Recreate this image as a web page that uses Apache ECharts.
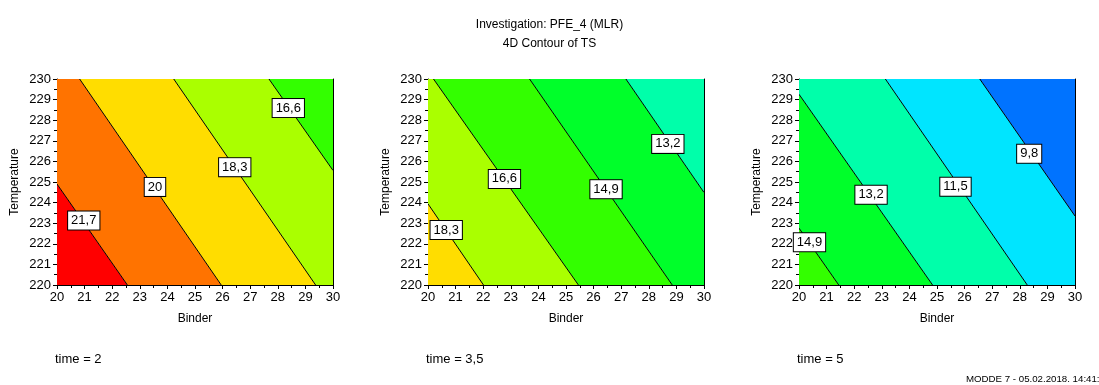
<!DOCTYPE html>
<html>
<head>
<meta charset="utf-8">
<script src="https://cdn.jsdelivr.net/npm/echarts@6/dist/echarts.min.js"></script>
<style>
html,body{margin:0;padding:0;background:#fff;}
#c{width:1099px;height:385px;}
</style>
</head>
<body>
<div id="c"></div>
<script>
// ---------- DATA ----------
const titleLine1 = 'Investigation: PFE_4 (MLR)';
const titleLine2 = '4D Contour of TS';
const footerText = 'MODDE 7 - 05.02.2018. 14:41:52';
const xName = 'Binder';
const yName = 'Temperature';
const xRange = [20, 30];
const yRange = [220, 230];
const timeLabels = ['time = 2', 'time = 3,5', 'time = 5'];

// contour levels per panel (TS values)
const levels1 = [21.7, 20, 18.3, 16.6];
const levels2 = [18.3, 16.6, 14.9, 13.2];
const levels3 = [14.9, 13.2, 11.5, 9.8];

// contour line endpoints [binder1, temp1, binder2, temp2]
const lines1 = [[20, 224.9, 22.55, 220], [20.82, 230, 25.95, 220], [24.23, 230, 29.37, 220], [27.68, 230, 30, 225.56]];
const lines2 = [[20, 223.94, 22.01, 220], [20.2, 230, 25.45, 220], [23.68, 230, 28.85, 220], [27.17, 230, 30, 224.49]];
const lines3 = [[20, 222.76, 21.44, 220], [20, 229.26, 24.84, 220], [23.13, 230, 28.27, 220], [26.55, 230, 30, 223.35]];

// label anchor points [binder, temp]
const labelPos1 = [[20.97, 223.13], [23.55, 224.76], [26.44, 225.72], [28.38, 228.59]];
const labelPos2 = [[20.66, 222.67], [22.77, 225.15], [26.45, 224.65], [28.69, 226.85]];
const labelPos3 = [[20.38, 222.07], [22.61, 224.38], [25.67, 224.77], [28.34, 226.37]];

// band colours (highest value band first)
const bandColors1 = ['#ff0000', '#ff7300', '#ffdd00', '#aaff00', '#33ff00'];
const bandColors2 = ['#ffdd00', '#aaff00', '#33ff00', '#00ff2a', '#00ffaa'];
const bandColors3 = ['#33ff00', '#00ff2a', '#00ffaa', '#00e5ff', '#0073ff'];

// ---------- HELPERS ----------
function side(l, p) {
  return (l[2] - l[0]) * (p[1] - l[1]) - (l[3] - l[1]) * (p[0] - l[0]);
}
function clip(poly, l, keepLow) {
  const ref = side(l, [xRange[1], yRange[1]]);
  const sgn = keepLow ? Math.sign(ref) : -Math.sign(ref);
  const inside = p => side(l, p) * sgn >= 0;
  const inter = (a, b) => {
    const sa = side(l, a), sb = side(l, b);
    const t = sa / (sa - sb);
    return [a[0] + (b[0] - a[0]) * t, a[1] + (b[1] - a[1]) * t];
  };
  const out = [];
  const n = poly.length;
  for (let i = 0; i < n; i++) {
    const cur = poly[i], prev = poly[(i - 1 + n) % n];
    if (inside(cur)) {
      if (!inside(prev)) out.push(inter(prev, cur));
      out.push(cur);
    } else if (inside(prev)) {
      out.push(inter(prev, cur));
    }
  }
  return out;
}
function bandPolygon(lines, k) {
  let poly = [[xRange[0], yRange[0]], [xRange[1], yRange[0]], [xRange[1], yRange[1]], [xRange[0], yRange[1]]];
  if (k > 0) poly = clip(poly, lines[k - 1], true);
  if (k < lines.length && poly.length) poly = clip(poly, lines[k], false);
  return poly;
}

const panels = [
  { levels: levels1, lines: lines1, labels: labelPos1, colors: bandColors1, left: 57 },
  { levels: levels2, lines: lines2, labels: labelPos2, colors: bandColors2, left: 428 },
  { levels: levels3, lines: lines3, labels: labelPos3, colors: bandColors3, left: 799 }
];

const FONT = 'Arial, "Liberation Sans", sans-serif';
const grids = [], xAxes = [], yAxes = [], series = [], graphics = [];

panels.forEach((p, i) => {
  grids.push({ left: p.left, width: 276, top: 79, height: 206, containLabel: false });
  const axisCommon = {
    axisLine: { show: true, onZero: false, lineStyle: { color: '#000', width: 1 } },
    splitLine: { show: false },
    minorSplitLine: { show: false }
  };
  xAxes.push(Object.assign({}, axisCommon, {
    gridIndex: i, type: 'value', min: xRange[0], max: xRange[1], interval: 1, position: 'bottom',
    name: xName, nameLocation: 'middle', nameGap: 28,
    nameTextStyle: { color: '#000', fontSize: 12, fontFamily: FONT },
    axisTick: { show: true, length: 4, lineStyle: { color: '#000' } },
    minorTick: { show: true, splitNumber: 2, length: 3, lineStyle: { color: '#000' } },
    axisLabel: { color: '#000', fontSize: 13, fontFamily: FONT, margin: 6 }
  }));
  xAxes.push(Object.assign({}, axisCommon, {
    gridIndex: i, type: 'value', min: xRange[0], max: xRange[1], interval: 1, position: 'top',
    axisTick: { show: false }, axisLabel: { show: false }
  }));
  yAxes.push(Object.assign({}, axisCommon, {
    gridIndex: i, type: 'value', min: yRange[0], max: yRange[1], interval: 1, position: 'left',
    name: yName, nameLocation: 'middle', nameGap: 36, nameRotate: 90,
    nameTextStyle: { color: '#000', fontSize: 12, fontFamily: FONT },
    axisTick: { show: true, length: 4, lineStyle: { color: '#000' } },
    minorTick: { show: true, splitNumber: 2, length: 3, lineStyle: { color: '#000' } },
    axisLabel: { color: '#000', fontSize: 13, fontFamily: FONT, margin: 6 }
  }));
  yAxes.push(Object.assign({}, axisCommon, {
    gridIndex: i, type: 'value', min: yRange[0], max: yRange[1], interval: 1, position: 'right',
    axisTick: { show: false }, axisLabel: { show: false }
  }));

  // filled bands
  series.push({
    type: 'custom', xAxisIndex: i * 2, yAxisIndex: i * 2, clip: true, silent: true, z: 1,
    data: p.colors.map(() => [xRange[0], yRange[0]]),
    renderItem: function (params, api) {
      const k = params.dataIndex;
      const poly = bandPolygon(p.lines, k);
      if (poly.length < 3) return null;
      return {
        type: 'polygon',
        shape: { points: poly.map(pt => api.coord(pt)) },
        style: { fill: p.colors[k], stroke: null }
      };
    }
  });
  // contour lines
  series.push({
    type: 'custom', xAxisIndex: i * 2, yAxisIndex: i * 2, clip: true, silent: true, z: 2,
    data: p.lines,
    encode: { x: [0, 2], y: [1, 3] },
    renderItem: function (params, api) {
      const a = api.coord([api.value(0), api.value(1)]);
      const b = api.coord([api.value(2), api.value(3)]);
      return {
        type: 'line',
        shape: { x1: a[0], y1: a[1], x2: b[0], y2: b[1] },
        style: { stroke: '#000', lineWidth: 1 }
      };
    }
  });
  // contour labels
  series.push({
    type: 'scatter', xAxisIndex: i * 2, yAxisIndex: i * 2, silent: true, z: 5,
    symbolSize: 0,
    itemStyle: { opacity: 1 },
    data: p.labels.map((pos, j) => [pos[0], pos[1], p.levels[j]]),
    label: {
      show: true, position: 'inside', opacity: 1,
      formatter: d => String(d.value[2]).replace('.', ','),
      color: '#000', fontSize: 13, fontFamily: FONT,
      backgroundColor: '#fff', borderColor: '#000', borderWidth: 1,
      padding: [3, 3, 2, 3]
    }
  });

  graphics.push({
    type: 'text', x: p.left - 2, y: 353,
    style: { text: timeLabels[i], fill: '#000', font: '13px ' + FONT }
  });
});

graphics.push({
  type: 'text', x: 966, y: 374,
  style: { text: footerText, fill: '#000', font: '9.7px ' + FONT, overflow: 'none' }
});

const chart = echarts.init(document.getElementById('c'), null, { renderer: 'canvas' });
chart.setOption({
  animation: false,
  backgroundColor: '#fff',
  title: {
    text: titleLine1 + '\n' + titleLine2,
    left: 'center', top: 10,
    textStyle: { color: '#000', fontSize: 12, fontWeight: 'normal', fontFamily: FONT, lineHeight: 19 }
  },
  grid: grids,
  xAxis: xAxes,
  yAxis: yAxes,
  series: series,
  graphic: graphics
});
</script>
</body>
</html>
